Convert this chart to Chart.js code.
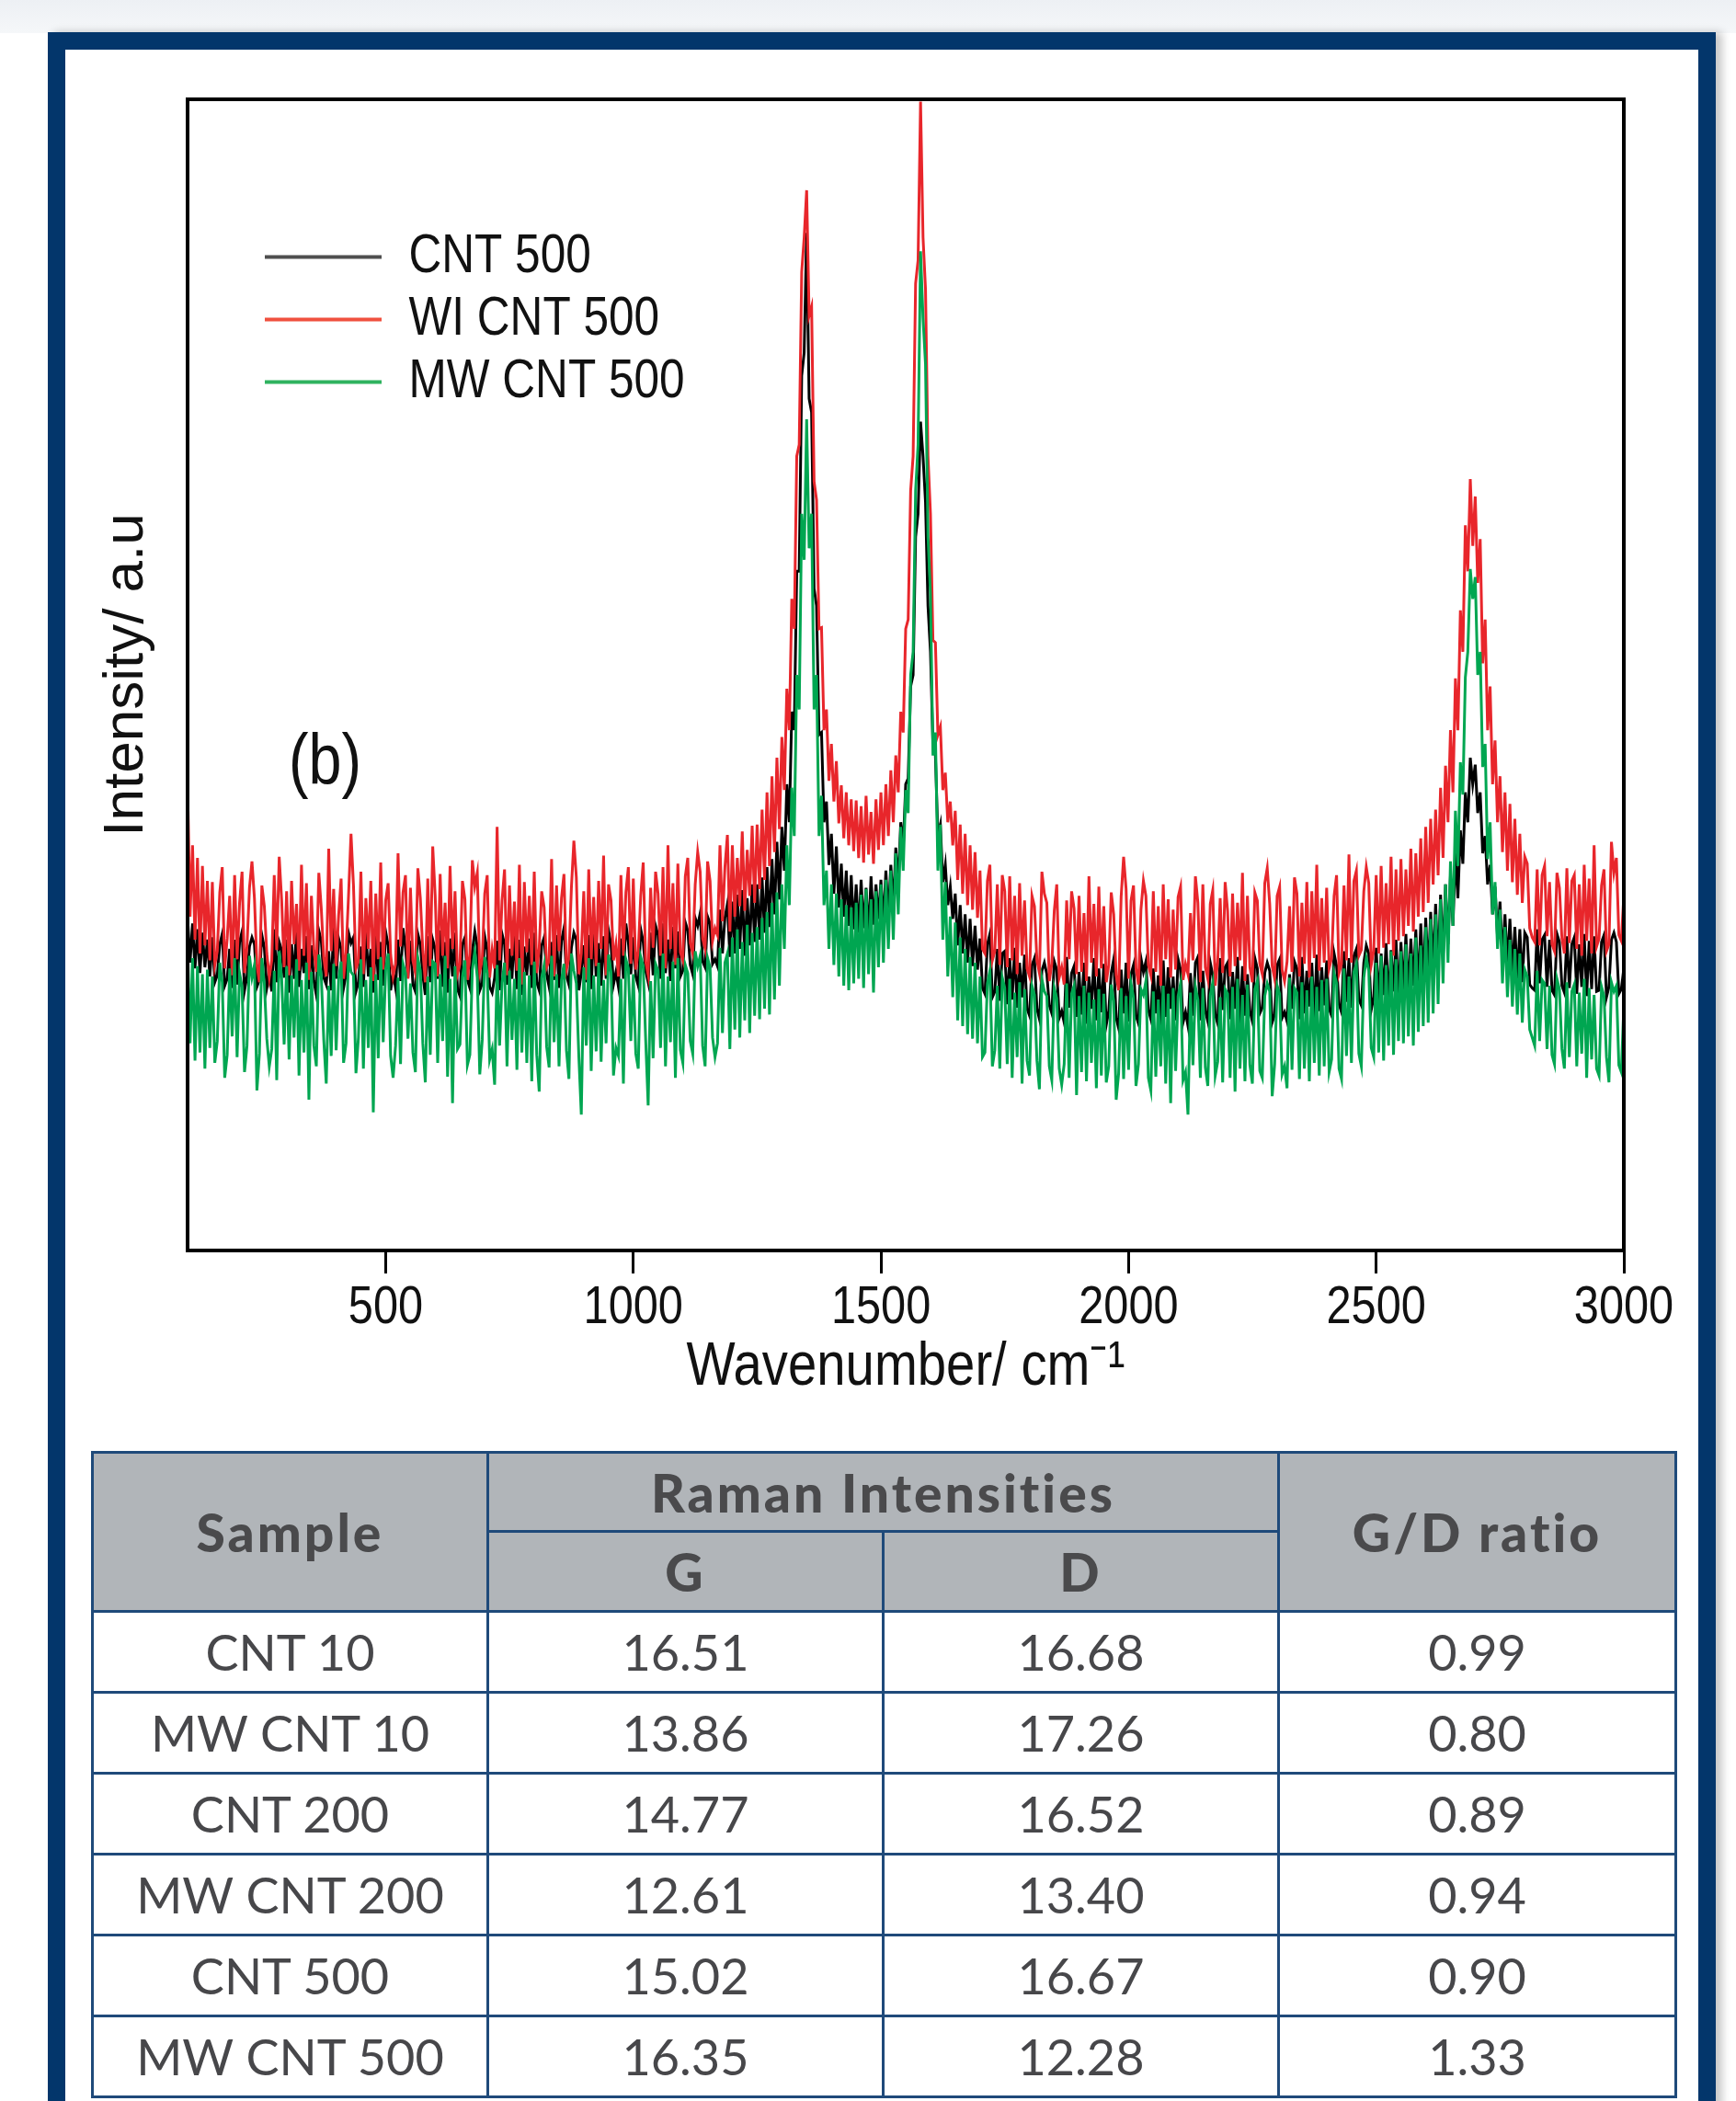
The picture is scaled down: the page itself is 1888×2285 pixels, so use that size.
<!DOCTYPE html>
<html>
<head>
<meta charset="utf-8">
<script src="https://cdn.jsdelivr.net/npm/chart.js@4.4.1/dist/chart.umd.min.js"></script>
<style>
html,body{margin:0;padding:0;}
body{width:1888px;height:2285px;position:relative;overflow:hidden;background:#fff;}
#topband{position:absolute;left:0;top:0;width:1888px;height:36px;background:linear-gradient(#edf0f4,#f5f7f9);}
#frame{position:absolute;left:52px;top:35px;width:1814px;height:2400px;box-sizing:border-box;border:19px solid #03366b;background:#fff;box-shadow:7px 0 9px rgba(0,0,0,0.22);}
#chartbox{position:absolute;left:0;top:0;width:1888px;height:1560px;}
#tag{position:absolute;left:314px;top:788px;font-family:'Liberation Sans',Arial,sans-serif;font-size:77px;line-height:1;color:#111;transform:scaleX(0.84);transform-origin:0 0;}
#tbl{position:absolute;left:99px;top:1578px;width:1722px;border-collapse:collapse;table-layout:fixed;font-family:Lato,'Open Sans',sans-serif;color:#47474a;}
#tbl td,#tbl th{border:3px solid #1f4a7a;text-align:center;padding:0;}
#tbl th{background:#b1b5b9;font-weight:900;font-size:57px;letter-spacing:3px;color:#4a4a4c;}
#tbl td{font-size:54px;font-weight:400;height:85px;}
#tbl tr.h1 th{height:83px;}
#tbl tr.h2 th{height:84px;}
</style>
</head>
<body>
<div id="topband"></div>
<div id="frame"></div>
<div id="chartbox"><canvas id="c"></canvas></div>
<div id="tag">(b)</div>
<table id="tbl"></table>
<script>
// ---------- DATA ----------
const wavenumbers = [
100,105,110,115,120,125,130,135,140,145,
150,155,160,165,170,175,180,185,190,195,
200,205,210,215,220,225,230,235,240,245,
250,255,260,265,270,275,280,285,290,295,
300,305,310,315,320,325,330,335,340,345,
350,355,360,365,370,375,380,385,390,395,
400,405,410,415,420,425,430,435,440,445,
450,455,460,465,470,475,480,485,490,495,
500,505,510,515,520,525,530,535,540,545,
550,555,560,565,570,575,580,585,590,595,
600,605,610,615,620,625,630,635,640,645,
650,655,660,665,670,675,680,685,690,695,
700,705,710,715,720,725,730,735,740,745,
750,755,760,765,770,775,780,785,790,795,
800,805,810,815,820,825,830,835,840,845,
850,855,860,865,870,875,880,885,890,895,
900,905,910,915,920,925,930,935,940,945,
950,955,960,965,970,975,980,985,990,995,
1000,1005,1010,1015,1020,1025,1030,1035,1040,1045,
1050,1055,1060,1065,1070,1075,1080,1085,1090,1095,
1100,1105,1110,1115,1120,1125,1130,1135,1140,1145,
1150,1155,1160,1165,1170,1175,1180,1185,1190,1195,
1200,1205,1210,1215,1220,1225,1230,1235,1240,1245,
1250,1255,1260,1265,1270,1275,1280,1285,1290,1295,
1300,1305,1310,1315,1320,1325,1330,1335,1340,1345,
1350,1355,1360,1365,1370,1375,1380,1385,1390,1395,
1400,1405,1410,1415,1420,1425,1430,1435,1440,1445,
1450,1455,1460,1465,1470,1475,1480,1485,1490,1495,
1500,1505,1510,1515,1520,1525,1530,1535,1540,1545,
1550,1555,1560,1565,1570,1575,1580,1585,1590,1595,
1600,1605,1610,1615,1620,1625,1630,1635,1640,1645,
1650,1655,1660,1665,1670,1675,1680,1685,1690,1695,
1700,1705,1710,1715,1720,1725,1730,1735,1740,1745,
1750,1755,1760,1765,1770,1775,1780,1785,1790,1795,
1800,1805,1810,1815,1820,1825,1830,1835,1840,1845,
1850,1855,1860,1865,1870,1875,1880,1885,1890,1895,
1900,1905,1910,1915,1920,1925,1930,1935,1940,1945,
1950,1955,1960,1965,1970,1975,1980,1985,1990,1995,
2000,2005,2010,2015,2020,2025,2030,2035,2040,2045,
2050,2055,2060,2065,2070,2075,2080,2085,2090,2095,
2100,2105,2110,2115,2120,2125,2130,2135,2140,2145,
2150,2155,2160,2165,2170,2175,2180,2185,2190,2195,
2200,2205,2210,2215,2220,2225,2230,2235,2240,2245,
2250,2255,2260,2265,2270,2275,2280,2285,2290,2295,
2300,2305,2310,2315,2320,2325,2330,2335,2340,2345,
2350,2355,2360,2365,2370,2375,2380,2385,2390,2395,
2400,2405,2410,2415,2420,2425,2430,2435,2440,2445,
2450,2455,2460,2465,2470,2475,2480,2485,2490,2495,
2500,2505,2510,2515,2520,2525,2530,2535,2540,2545,
2550,2555,2560,2565,2570,2575,2580,2585,2590,2595,
2600,2605,2610,2615,2620,2625,2630,2635,2640,2645,
2650,2655,2660,2665,2670,2675,2680,2685,2690,2695,
2700,2705,2710,2715,2720,2725,2730,2735,2740,2745,
2750,2755,2760,2765,2770,2775,2780,2785,2790,2795,
2800,2805,2810,2815,2820,2825,2830,2835,2840,2845,
2850,2855,2860,2865,2870,2875,2880,2885,2890,2895,
2900,2905,2910,2915,2920,2925,2930,2935,2940,2945,
2950,2955,2960,2965,2970,2975,2980,2985,2990,2995,
3000];

// CNT 500 (black)
const cnt500 = [
290,250,284,245,279,241,276,246,270,238,
272,233,239,266,275,230,236,262,228,270,
231,268,277,226,238,264,272,266,229,235,
274,263,228,240,225,279,233,268,261,237,
270,224,266,236,281,229,262,241,273,227,
265,234,222,278,269,237,231,260,226,283,
236,271,262,228,240,276,267,272,225,233,
264,229,279,238,262,224,274,235,268,230,
277,265,226,241,228,270,234,280,263,237,
269,231,225,275,266,239,222,273,233,270,
262,236,278,229,268,224,271,238,276,227,
221,266,272,235,228,260,277,264,226,232,
273,261,229,224,237,269,226,275,266,231,
262,236,279,227,270,222,264,239,271,228,
276,233,226,265,272,240,229,268,235,274,
228,269,280,239,231,263,276,270,226,241,
265,233,274,227,281,238,267,230,273,236,
278,266,231,242,229,271,236,284,268,240,
272,238,230,279,268,243,233,276,239,282,
274,236,284,241,270,234,281,245,277,238,
243,285,278,248,240,289,282,293,251,246,
290,284,249,253,247,296,258,289,301,255,
303,258,309,262,313,256,306,265,318,268,
318,270,324,276,333,281,340,292,355,305,
368,330,405,372,468,452,590,590,760,780,
884,740,728,575,560,448,450,372,390,335,
362,310,351,298,336,290,330,282,326,279,
318,276,322,280,315,274,325,283,318,288,
322,284,330,290,335,298,350,318,372,350,
405,410,490,500,620,640,720,690,650,560,
520,440,430,360,370,320,335,300,316,288,
310,265,300,258,292,250,288,247,282,244,
271,228,223,266,275,220,225,262,217,258,
260,214,254,218,263,211,250,220,257,210,
204,248,254,210,201,243,250,240,213,206,
251,244,202,208,198,255,211,241,247,203,
242,205,250,197,238,210,254,200,245,207,
249,196,208,241,253,202,193,244,206,250,
199,240,248,204,197,254,242,251,209,201,
245,206,239,195,252,203,246,210,238,200,
253,244,198,207,195,241,204,250,255,200,
243,208,199,250,239,205,197,254,209,246,
250,201,242,210,255,196,247,204,240,208,
199,254,245,206,211,241,250,243,198,205,
248,253,202,207,199,240,210,251,245,201,
255,206,243,212,250,200,257,208,246,213,
252,210,204,258,247,214,207,260,216,254,
211,256,262,218,213,250,265,258,209,220,
263,216,258,222,267,214,261,225,270,219,
268,225,275,222,271,230,279,227,284,233,
289,240,294,246,301,244,309,255,318,266,
325,282,345,306,365,336,398,372,428,405,
422,380,398,345,360,318,335,292,316,272,
303,254,292,248,288,240,281,236,279,233,
276,272,231,228,226,279,232,270,274,229,
270,226,222,275,268,230,224,273,228,266,
272,223,266,229,275,221,269,227,273,225,
226,268,274,220,229,270,276,268,223,227,
245];

// WI CNT 500 (red)
const wiCnt500 = [
405,290,352,270,341,258,334,265,321,252,
320,248,260,311,333,245,271,308,239,326,
253,302,329,241,264,315,338,306,248,233,
317,299,258,237,252,326,261,342,304,246,
312,239,321,266,301,243,335,256,319,235,
308,261,242,328,297,254,238,349,260,314,
247,291,323,236,259,308,362,317,245,251,
329,240,306,262,321,234,310,253,337,244,
304,319,257,238,249,345,264,311,326,236,
315,252,241,332,306,260,233,323,247,351,
308,238,327,256,302,245,334,262,312,240,
249,321,305,235,258,339,316,328,242,253,
310,326,237,261,245,368,252,304,331,239,
317,256,303,243,335,231,320,259,308,248,
329,241,263,312,298,246,252,340,238,317,
260,306,327,244,254,315,356,324,240,258,
312,235,331,253,307,247,321,262,343,239,
318,304,252,266,238,326,256,311,333,249,
323,244,260,308,337,251,239,315,263,329,
310,256,333,245,352,262,319,248,336,259,
252,325,341,267,258,318,346,329,271,262,
338,321,269,280,274,352,286,333,361,277,
352,290,341,299,364,295,348,308,369,302,
370,314,383,322,398,334,412,346,428,366,
446,400,488,452,566,540,690,700,850,880,
921,812,820,668,652,540,541,452,470,408,
440,390,425,371,404,358,398,352,392,347,
391,341,386,337,395,344,381,336,392,348,
398,352,405,360,417,372,430,398,468,450,
540,548,660,690,840,860,998,880,835,690,
640,530,528,448,455,400,415,372,390,352,
382,322,370,310,362,300,352,296,346,289,
330,262,258,321,335,252,260,318,248,326,
312,246,325,252,308,240,319,256,304,245,
238,308,299,252,241,329,310,302,234,249,
295,318,237,246,231,304,253,312,297,240,
308,242,293,234,325,250,301,238,316,245,
299,233,248,311,292,239,226,307,342,314,
236,304,317,245,231,296,321,308,248,239,
312,242,299,230,318,253,305,237,296,244,
307,316,235,249,240,293,252,325,302,233,
318,246,236,301,313,230,251,306,241,320,
295,238,310,247,302,252,328,234,308,246,
233,311,304,249,240,319,332,301,247,236,
308,316,244,234,251,299,242,324,310,238,
302,249,320,237,312,254,335,243,306,250,
315,245,254,308,326,241,249,317,252,344,
250,321,330,256,261,312,333,319,248,260,
326,258,334,263,319,266,342,256,331,269,
340,273,331,282,349,277,345,290,358,294,
368,302,375,318,383,326,402,341,421,372,
452,398,497,452,556,520,630,590,670,612,
655,580,618,510,548,452,490,405,443,372,
412,346,398,330,388,320,375,309,362,302,
342,336,280,272,268,331,265,326,334,273,
320,266,260,328,315,271,258,332,267,321,
326,262,318,256,335,269,323,258,352,264,
271,317,331,260,266,355,328,341,274,269,
308];

// MW CNT 500 (green)
const mwCnt500 = [
267,180,254,165,247,172,240,158,244,176,
238,163,182,250,233,150,170,245,186,254,
168,241,229,155,178,256,237,248,139,171,
254,232,184,160,175,243,148,260,236,179,
247,166,239,185,253,152,235,172,250,131,
242,178,160,257,238,183,145,230,169,249,
174,236,251,163,180,258,242,239,154,185,
253,158,235,176,246,120,240,167,255,181,
244,258,169,150,178,237,162,249,241,184,
232,172,155,254,243,180,146,238,170,251,
249,163,240,182,256,151,236,128,247,175,
179,238,252,161,170,244,260,237,153,183,
255,241,166,175,144,248,178,233,250,160,
243,183,236,157,254,172,242,163,239,147,
251,170,138,237,248,177,159,256,181,240,
160,235,249,174,149,258,243,232,169,118,
246,178,254,156,239,173,250,164,235,180,
257,242,152,176,169,236,145,253,245,182,
240,171,158,255,247,183,126,234,167,249,
243,176,258,160,238,181,251,150,254,174,
163,248,241,182,171,260,247,256,178,160,
254,246,185,168,180,263,189,250,258,175,
272,192,279,185,268,200,283,189,276,204,
281,201,289,210,294,205,302,218,311,230,
318,262,352,300,402,360,500,470,640,600,
722,610,640,470,500,360,395,300,330,262,
318,248,310,238,305,230,300,226,298,232,
302,236,309,228,314,240,305,224,312,246,
318,250,322,262,330,270,345,292,368,330,
400,380,500,520,660,700,868,810,770,620,
570,430,450,330,370,270,320,238,290,220,
285,200,272,195,262,188,255,184,250,180,
238,168,172,232,243,160,174,230,158,237,
228,162,236,150,224,168,233,145,227,165,
152,230,222,165,140,236,225,221,160,148,
228,219,158,144,162,232,150,223,230,135,
221,155,230,147,224,163,218,141,227,152,
223,146,160,231,217,131,154,228,149,221,
157,232,220,143,162,227,222,234,150,139,
225,151,218,160,230,145,223,128,228,156,
221,232,148,155,118,224,161,229,218,150,
228,159,143,222,233,152,164,220,146,227,
223,150,229,138,236,158,222,147,231,161,
145,227,234,156,150,221,232,225,134,162,
230,223,153,160,141,237,157,228,224,149,
233,158,226,147,238,163,229,152,235,160,
236,155,166,241,232,158,149,245,169,238,
163,242,249,171,160,237,254,243,176,168,
250,172,256,165,248,178,260,170,253,182,
260,180,266,186,258,178,272,190,265,195,
281,198,288,206,292,214,305,232,318,250,
338,282,382,334,424,396,498,520,592,566,
585,500,520,420,440,340,372,292,320,262,
296,232,281,220,270,212,262,205,258,198,
244,238,192,185,178,243,182,235,232,175,
230,170,162,236,227,175,158,233,168,225,
231,160,224,171,236,150,228,166,222,158,
152,229,221,168,146,233,225,230,161,155,
212];

const seriesLabels = ['CNT 500', 'WI CNT 500', 'MW CNT 500'];
const seriesColors = ['#000000', '#e8262b', '#00a651'];
const legendColors = ['#4f4f4f', '#f0513f', '#2fb35f'];
const xTickValues = [500, 1000, 1500, 2000, 2500, 3000];
const xTitle = 'Wavenumber/ cm\u207B\u00B9';
const yTitle = 'Intensity/ a.u';

const samples = ['CNT 10', 'MW CNT 10', 'CNT 200', 'MW CNT 200', 'CNT 500', 'MW CNT 500'];
const gIntensity = ['16.51', '13.86', '14.77', '12.61', '15.02', '16.35'];
const dIntensity = ['16.68', '17.26', '16.52', '13.40', '16.67', '12.28'];
const gdRatio = ['0.99', '0.80', '0.89', '0.94', '0.90', '1.33'];

// ---------- TABLE ----------
(function buildTable(){
  const t = document.getElementById('tbl');
  let html = '<colgroup><col style="width:430px"><col style="width:430px"><col style="width:430px"><col style="width:432px"></colgroup>';
  html += '<tr class="h1"><th rowspan="2">Sample</th><th colspan="2">Raman Intensities</th><th rowspan="2">G/D ratio</th></tr>';
  html += '<tr class="h2"><th>G</th><th>D</th></tr>';
  for (let i = 0; i < samples.length; i++) {
    html += '<tr><td>' + samples[i] + '</td><td>' + gIntensity[i] + '</td><td>' + dIntensity[i] + '</td><td>' + gdRatio[i] + '</td></tr>';
  }
  t.innerHTML = html;
})();

// ---------- CHART ----------
const SANS = "'Liberation Sans',Arial,sans-serif";
const CONDENSE = 0.84;   // the source figure's horizontal text is squeezed
const seriesData = [cnt500, wiCnt500, mwCnt500];
if (seriesData.some(s => s.length !== wavenumbers.length)) {
  console.error('length mismatch', seriesData.map(s => s.length), wavenumbers.length);
}
const toPoints = arr => arr.map((y, i) => ({ x: wavenumbers[i], y: y }));

const condensedText = {
  id: 'condensedText',
  beforeInit(chart) {
    const ctx = chart.ctx;
    const origFill = ctx.fillText.bind(ctx);
    ctx.fillText = function (text, x, y, maxWidth) {
      const m = ctx.getTransform();
      if (Math.abs(m.b) > 1e-6 || Math.abs(m.c) > 1e-6) {
        return maxWidth === undefined ? origFill(text, x, y) : origFill(text, x, y, maxWidth);
      }
      ctx.save();
      ctx.translate(x, y);
      ctx.scale(CONDENSE, 1);
      origFill(text, 0, 0);
      ctx.restore();
    };
  }
};
const framePlugin = {
  id: 'plotFrame',
  afterDatasetsDraw(chart) {
    const { ctx, chartArea: a } = chart;
    ctx.save();
    ctx.strokeStyle = '#000';
    ctx.lineWidth = 4;
    ctx.strokeRect(a.left, a.top, a.right - a.left, a.bottom - a.top);
    ctx.restore();
  }
};
const legendPlace = {
  id: 'legendPlace',
  afterLayout(chart) {
    const lg = chart.legend;
    if (!lg) return;
    lg.left = chart.chartArea.left + 75;
    lg.top = chart.chartArea.top + 133;
  }
};

new Chart(document.getElementById('c'), {
  type: 'line',
  data: {
    datasets: seriesData.map((arr, i) => ({
      label: seriesLabels[i],
      data: toPoints(arr),
      borderColor: seriesColors[i],
      backgroundColor: seriesColors[i],
      borderWidth: 3,
      borderJoinStyle: 'miter',
      pointRadius: 0,
      tension: 0,
      fill: false,
      order: [3, 2, 1][i]
    }))
  },
  options: {
    responsive: true,
    maintainAspectRatio: false,
    animation: false,
    parsing: false,
    normalized: true,
    devicePixelRatio: 1,
    layout: { padding: { left: 100, top: 108, right: 122, bottom: 10 } },
    plugins: {
      tooltip: { enabled: false },
      legend: {
        display: true,
        position: 'chartArea',
        align: 'start',
        labels: {
          usePointStyle: true,
          pointStyle: 'line',
          pointStyleWidth: 127,
          padding: 9,
          color: '#111',
          font: { family: SANS, size: 59 },
          generateLabels: (chart) => chart.data.datasets.map((ds, i) => ({
            text: ds.label,
            fillStyle: legendColors[i],
            strokeStyle: legendColors[i],
            lineWidth: 4,
            pointStyle: 'line',
            hidden: false,
            datasetIndex: i,
            fontColor: '#111'
          }))
        }
      }
    },
    scales: {
      x: {
        type: 'linear',
        min: 100,
        max: 3000,
        afterBuildTicks: (axis) => { axis.ticks = xTickValues.map(v => ({ value: v })); },
        afterFit: (axis) => { axis.height = 190; },
        grid: { drawOnChartArea: false, drawTicks: true, tickLength: 25, tickWidth: 3, tickColor: '#000' },
        border: { display: false },
        ticks: {
          autoSkip: false, maxRotation: 0, padding: 3, color: '#111',
          font: { family: SANS, size: 58, lineHeight: 1.2 },
          callback: (v) => String(v)
        },
        title: {
          display: true, text: xTitle, color: '#111',
          font: { family: SANS, size: 67, lineHeight: 1.2 },
          padding: { top: 0, bottom: 22 }
        }
      },
      y: {
        min: 0,
        max: 1000,
        afterFit: (axis) => { axis.width = 104; },
        ticks: { display: false },
        grid: { display: false },
        border: { display: false },
        title: {
          display: true, text: yTitle, color: '#111',
          font: { family: SANS, size: 62, lineHeight: 1.2 },
          padding: { top: 1, bottom: 0 }
        }
      }
    }
  },
  plugins: [condensedText, framePlugin, legendPlace]
});
</script>
</body>
</html>
